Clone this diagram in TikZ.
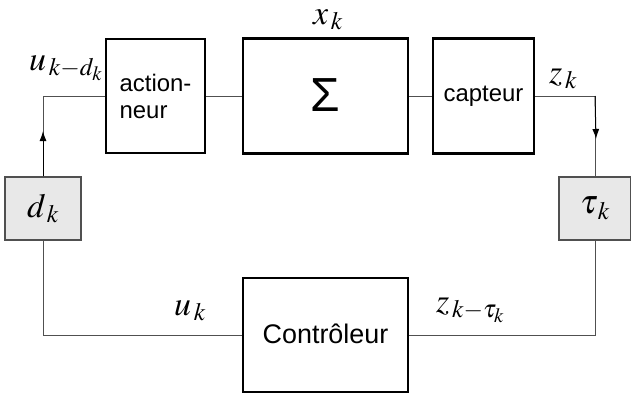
\documentclass[tikz,border=0pt]{standalone}
\usepackage{mathptmx}
\usepackage{fontspec}
\setsansfont{Liberation Sans}
\usetikzlibrary{arrows.meta}
\definecolor{linegray}{HTML}{505050}
\definecolor{boxgray}{HTML}{E8E8E8}
\tikzset{
  blk/.style={draw=black, line width=2.6bp, rectangle, inner sep=0pt, font=\sffamily\fontsize{24}{27}\selectfont},
  delay/.style={draw=linegray, line width=1.2bp, fill=boxgray, rectangle, inner sep=0pt, font=\fontsize{34}{34}\selectfont},
  conn/.style={draw=linegray, line width=1bp},
  lbl/.style={inner sep=0pt, font=\fontsize{34}{34}\selectfont},
  tip/.style={-{Latex[length=10bp,width=7bp]}, draw=black, fill=black, line width=1bp}
}
\begin{document}
\begin{tikzpicture}[x=1bp,y=-1bp]
\useasboundingbox (0,0) rectangle (631,396);
\node[blk, minimum width=99bp, minimum height=114bp, align=left] (act) at (155.5,96) {action-\\neur};
\node[blk, minimum width=165bp, minimum height=115bp, font=\sffamily\fontsize{48}{48}\selectfont] (sys) at (325.5,96) {\raisebox{2bp}{Σ}};
\node[blk, minimum width=101bp, minimum height=115bp] (cap) at (483.5,96) {capteur};
\node[blk, minimum width=165bp, minimum height=114bp, font=\sffamily\fontsize{27}{27}\selectfont] (ctl) at (325.5,335) {\raisebox{3bp}{Contrôleur}};
\node[delay, minimum width=76bp, minimum height=63bp] (dk) at (43,208.5) {$d_{\,k}$};
\node[delay, minimum width=72bp, minimum height=63bp] (tk) at (595,208.5) {$\tau_{\,k}$};
\coordinate (upa) at (43,131);
\coordinate (dna) at (596,139);
% connectors
\draw[conn] (act.east) -- (sys.west);
\draw[conn] (sys.east) -- (cap.west);
\draw[conn] (cap.east) -| (tk.north);
\draw[conn] (tk.south) |- (ctl.east);
\draw[conn] (ctl.west) -| (dk.south);
\draw[conn] (dk.north) |- (act.west);
\draw[tip] (dk.north) -- (upa);
\draw[tip] (cap.east -| tk.north) -- (dna);
% labels
\node[lbl, anchor=base] (lx) at (328,24) {$x_{\,k}$};
\node[lbl, anchor=base east] (lu) at (103,70) {$u_{\,k-d_k}$};
\node[lbl, anchor=base west] (lz) at (549,83) {$z_{\,k}$};
\node[lbl, anchor=base west] (luk) at (174,315) {$u_{\,k}$};
\node[lbl, anchor=base west] (lzt) at (436,312) {$z_{\,k-\tau_k}$};
\end{tikzpicture}
\end{document}
